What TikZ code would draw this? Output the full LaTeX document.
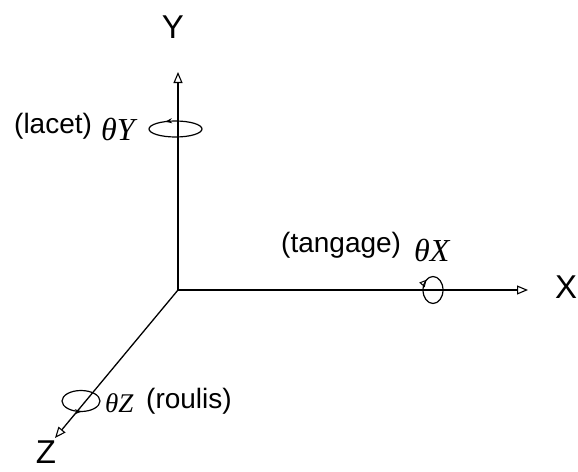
\documentclass[tikz,border=0pt]{standalone}
\usepackage{fontspec}
\setmainfont{Liberation Sans}
\newfontfamily\tmsfont{Liberation Serif}
\usetikzlibrary{arrows.meta,decorations.markings}
\begin{document}
\begin{tikzpicture}[x=1pt,y=-1pt,
  axis/.style={line width=1.3pt, -{Triangle[open,length=11pt,width=9pt,line width=1.1pt]}},
  rot/.style={line width=1.2pt},
  lbl/.style={font=\fontsize{28}{30}\selectfont, inner sep=0pt},
  axl/.style={font=\fontsize{33}{36}\selectfont, inner sep=0pt},
  thl/.style={font=\fontsize{32}{34}\selectfont\tmsfont\itshape, inner sep=0pt}]
\fill[white] (0,0) rectangle (578,471);
\useasboundingbox (0,0) rectangle (578,471);

\coordinate (O) at (178,290);
\coordinate (Yt) at (178,72);
\coordinate (Xt) at (528,290);
\coordinate (Zt) at (55,438);
\coordinate (cY) at (175.5,129);
\coordinate (cX) at (433,290);
\coordinate (cZ) at (81,401);

\draw[axis] (O) -- (Yt);
\draw[axis] (O) -- (Xt);
\draw[axis] (O) -- (Zt);

\node[axl] (Y) at (173,27) {Y};
\node[axl] (X) at (566,287) {X};
\node[axl] (Z) at (46,452) {Z};

% rotation ellipses
\draw[rot, postaction={decorate}, decoration={markings, mark=at position 0.34 with {\arrow{Stealth[length=7pt,width=5pt]}}}]
  (cY) ++(26.5,0) arc[start angle=0, end angle=-360, x radius=26.5, y radius=8];
\draw[rot, postaction={decorate}, decoration={markings, mark=at position 0.65 with {\arrow{Triangle[open,length=7pt,width=7pt,line width=1pt]}}}]
  (cX) ++(10,0) arc[start angle=0, end angle=360, x radius=10, y radius=13.5];
\draw[rot, postaction={decorate}, decoration={markings, mark=at position 0.76 with {\arrow{Stealth[length=7pt,width=5pt]}}}]
  (cZ) ++(19,0) arc[start angle=0, end angle=-360, x radius=19, y radius=10.5];

% labels
\node[lbl, anchor=west] (lacet) at (14,126) {(lacet)};
\node[thl, anchor=west] (thY) at (101,129) {θY};
\node[lbl, anchor=west] (tang) at (281,245) {(tangage)};
\node[thl, anchor=west] (thX) at (414,250) {θX};
\node[thl, anchor=west, font=\fontsize{27}{29}\selectfont\tmsfont\itshape] (thZ) at (105,403) {θZ};
\node[lbl, anchor=west] (roul) at (146,401) {(roulis)};
\end{tikzpicture}
\end{document}
